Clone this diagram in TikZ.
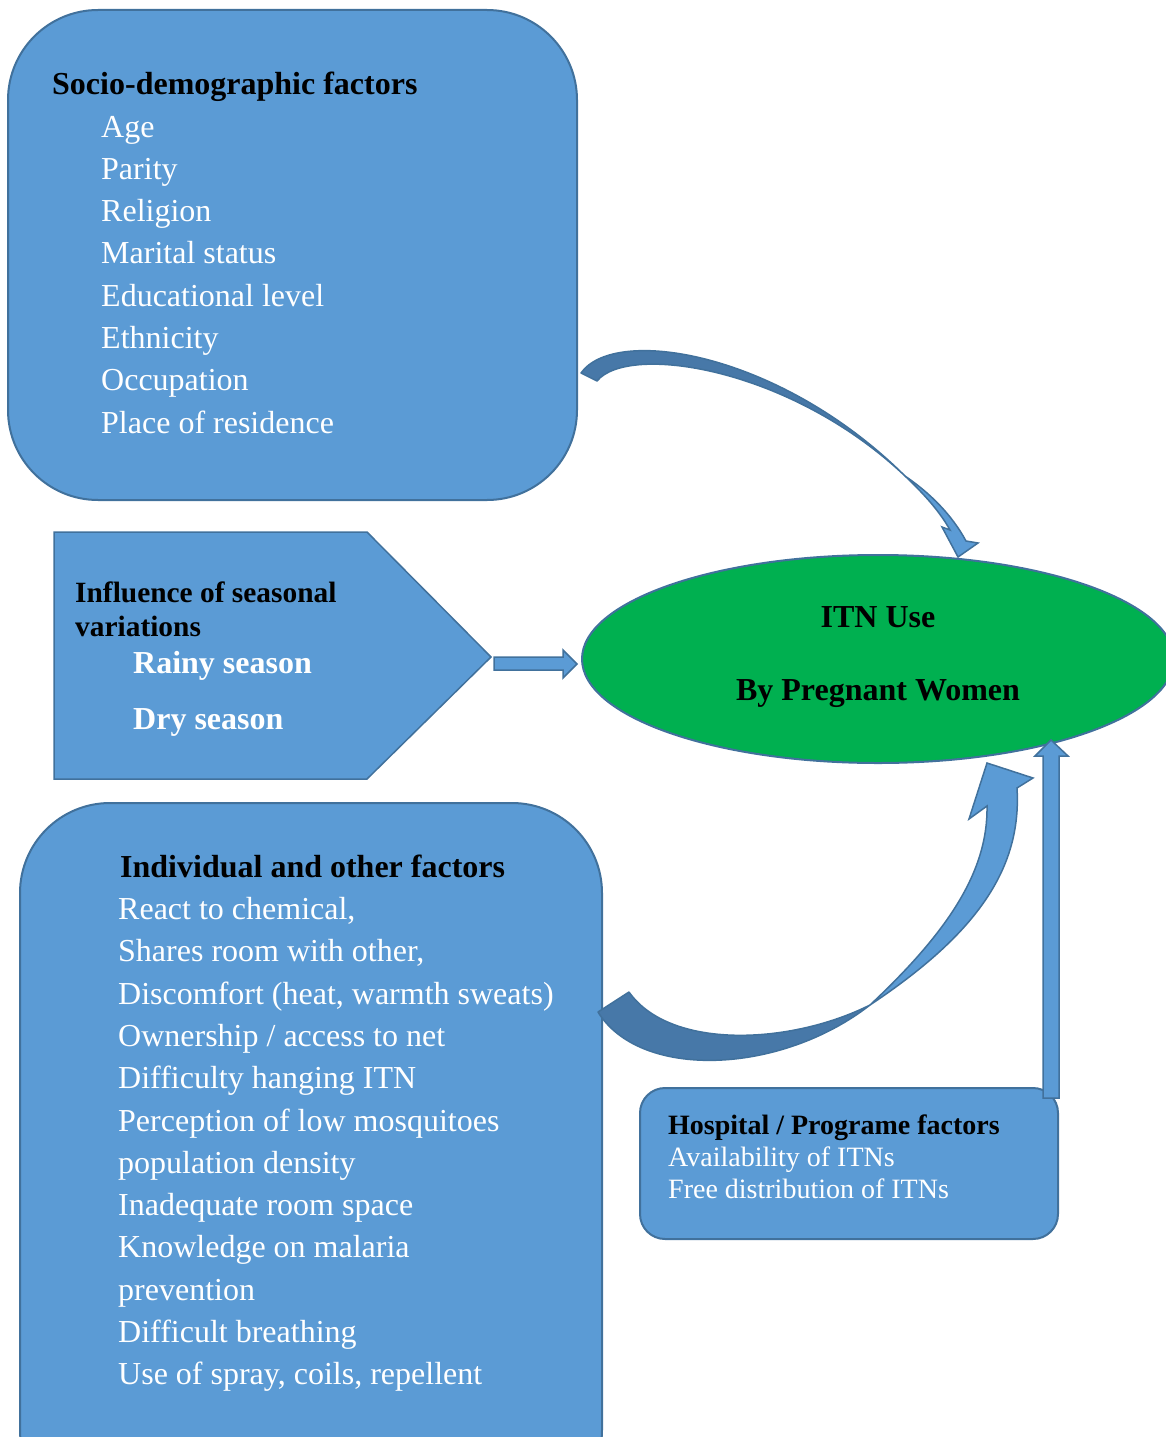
\documentclass[tikz,border=0pt]{standalone}
\usepackage{fontspec}
\setmainfont{Liberation Serif}
\usetikzlibrary{shapes.geometric}
\definecolor{boxblue}{HTML}{5B9BD5}
\definecolor{edgeblue}{HTML}{41719C}
\definecolor{darkblue}{RGB}{71,120,168}
\definecolor{itngreen}{HTML}{00B050}
\begin{document}
\begin{tikzpicture}[x=1pt,y=-1pt,
  panel/.style={fill=boxblue, draw=edgeblue, line width=2pt},
  arrowshape/.style={fill=boxblue, draw=edgeblue, line width=1.5pt, line join=miter},
  darkshape/.style={fill=darkblue, draw=edgeblue, line width=1.5pt, line join=round},
  item/.style={anchor=base west, inner sep=0pt, text=white, font=\fontsize{32}{38}\selectfont},
  ttl/.style={anchor=base west, inner sep=0pt, text=black, font=\fontsize{32}{38}\selectfont\bfseries},
  sitem/.style={anchor=base west, inner sep=0pt, text=white, font=\fontsize{28}{32}\selectfont},
  sttl/.style={anchor=base west, inner sep=0pt, text=black, font=\fontsize{28}{32}\selectfont\bfseries}]
\useasboundingbox (0,0) rectangle (1166,1437);
\clip (0,0) rectangle (1166,1437);

% Box 1
\draw[panel, rounded corners=90pt] (8,10) rectangle (577,500);
\node[ttl] (s0) at (52,94) {Socio-demographic factors};
\node[item] (s1) at (101,137) {Age};
\node[item] (s2) at (101,179.3) {Parity};
\node[item] (s3) at (101,221.6) {Religion};
\node[item] (s4) at (101,263.9) {Marital status};
\node[item] (s5) at (101,306.2) {Educational level};
\node[item] (s6) at (101,348.5) {Ethnicity};
\node[item] (s7) at (101,390.8) {Occupation};
\node[item] (s8) at (101,433.1) {Place of residence};

% Box 2 (pentagon)
\draw[panel, line width=1.5pt, line join=miter] (54,532) -- (367,532) -- (491,657) -- (367,779) -- (54,779) -- cycle;
\node[sttl, font=\fontsize{29.4}{33}\selectfont\bfseries] (v0) at (75,602) {Influence of seasonal};
\node[sttl, font=\fontsize{29.4}{33}\selectfont\bfseries] (v1) at (75,636) {variations};
\node[item, font=\fontsize{32}{38}\selectfont\bfseries] (v2) at (133,673) {Rainy season};
\node[item, font=\fontsize{32}{38}\selectfont\bfseries] (v3) at (133,729) {Dry season};

% Small right arrow
\draw[arrowshape] (494,657) -- (563,657) -- (563,650) -- (577,664) -- (563,678) -- (563,670) -- (494,670) -- cycle;

% Ellipse
\node[ellipse, draw=edgeblue, fill=itngreen, line width=2pt, minimum width=592pt, minimum height=208pt, inner sep=0pt] (itn) at (878,659) {};
\node[anchor=base, inner sep=0pt, font=\fontsize{32}{38}\selectfont\bfseries] (itn1) at (878,627) {ITN Use};
\node[anchor=base, inner sep=0pt, font=\fontsize{32}{38}\selectfont\bfseries] (itn2) at (878,700) {By Pregnant Women};

% Box 3
\draw[panel, rounded corners=90pt] (20,803) rectangle (602,1520);
\node[ttl] (i0) at (120,877) {Individual and other factors};
\node[item] (i1) at (118,919.5) {React to chemical,};
\node[item] (i2) at (118,961.8) {Shares room with other,};
\node[item] (i3) at (118,1004.1) {Discomfort (heat, warmth sweats)};
\node[item] (i4) at (118,1046.4) {Ownership / access to net};
\node[item] (i5) at (118,1088.7) {Difficulty hanging ITN};
\node[item] (i6) at (118,1131.0) {Perception of low mosquitoes};
\node[item] (i7) at (118,1173.3) {population density};
\node[item] (i8) at (118,1215.6) {Inadequate room space};
\node[item] (i9) at (118,1257.9) {Knowledge on malaria};
\node[item] (i10) at (118,1300.2) {prevention};
\node[item] (i11) at (118,1342.5) {Difficult breathing};
\node[item] (i12) at (118,1384.8) {Use of spray, coils, repellent};

% Box 4
\draw[panel, rounded corners=25pt] (640,1088) rectangle (1058,1239);
\node[sttl] (h0) at (668,1134) {Hospital / Programe factors};
\node[sitem] (h1) at (668,1166) {Availability of ITNs};
\node[sitem] (h2) at (668,1198) {Free distribution of ITNs};

% Vertical arrow
\draw[arrowshape] (1043,1098) -- (1043,756) -- (1035,756) -- (1051,740) -- (1068,756) -- (1059,756) -- (1059,1098) -- cycle;

% Top curved arrow (from box 1 to ellipse)
\draw[darkshape] (581,373) .. controls (615,325) and (780,352) .. (905,476)
   .. controls (790,367) and (628,343) .. (597,381) -- cycle;
\draw[arrowshape] (905,476) .. controls (925,495) and (940,512) .. (950,530)
   -- (942,527) -- (958,557) -- (978,543) -- (966,541)
   .. controls (952,515) and (930,493) .. (905,476) -- cycle;

% Bottom curved arrow (from box 3 to ellipse)
\draw[darkshape] (598,1012) .. controls (640,1080) and (780,1075) .. (870,1005)
   .. controls (790,1045) and (670,1050) .. (629,992) -- cycle;
\draw[arrowshape] (870,1005) .. controls (975,935) and (1022,870) .. (1017,788)
   -- (1033,778) -- (987,763) -- (969,819) -- (987,806)
   .. controls (988,870) and (950,930) .. (870,1005) -- cycle;
\end{tikzpicture}
\end{document}
